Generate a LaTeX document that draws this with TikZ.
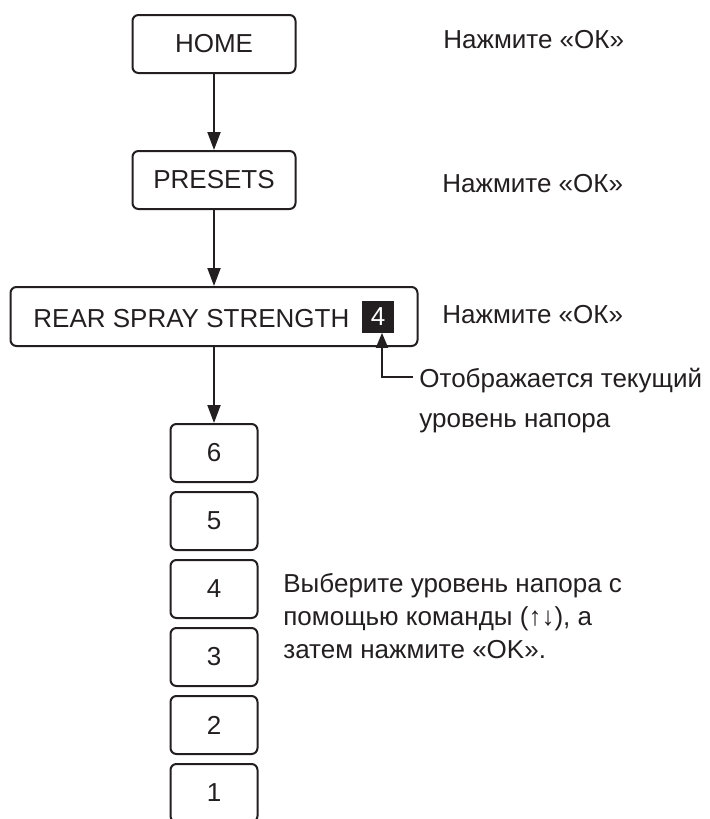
\documentclass[tikz,border=0pt]{standalone}
\usepackage{fontspec}
\setmainfont{Liberation Sans}
\usetikzlibrary{arrows.meta}
\definecolor{ink}{RGB}{35,31,32}
\begin{document}
\begin{tikzpicture}[
    x=0.5pt, y=-0.5pt,
    every node/.style={text=ink, font=\fontsize{13}{15.6}\selectfont},
    menu/.style={rectangle, draw=ink, line width=1pt, rounded corners=3pt, minimum height=29pt, inner sep=0pt},
    level/.style={menu, minimum width=43.5pt},
    note/.style={anchor=base west, align=left, inner sep=0pt},
    arrow/.style={-{Triangle[length=9pt, width=6.5pt]}, draw=ink, line width=1pt},
    pointer/.style={-{Triangle[length=7.5pt, width=6pt]}, draw=ink, line width=1pt}
]
    \useasboundingbox (0,0) rectangle (709,819);

    % Menu path
    \node[menu, minimum width=81.5pt] (home) at (214,44) {HOME};
    \node[menu, minimum width=81.5pt] (presets) at (214,180) {PRESETS};
    \node[menu, minimum width=203.5pt, minimum height=29.5pt] (rear) at (214,316.5) {};
    \node[anchor=base west, inner sep=0pt] (rearlbl) at (33,327) {REAR SPRAY STRENGTH};
    \node[fill=ink, text=white, minimum size=16pt, inner sep=0pt] (cur) at (378,316.5) {4};
    \draw[arrow] (home) -- (presets);
    \draw[arrow] (presets) -- (rear);
    \draw[arrow] (rear) -- (214,423);

    % Level choices
    \foreach \n [count=\i from 0] in {6,5,4,3,2,1}
        \node[level] (lv\n) at (214,453+68*\i) {\n};

    % Notes on the right (base = last line)
    \node[note] (ok1) at (443,48) {Нажмите «ОК»};
    \node[note] (ok2) at (442,192) {Нажмите «ОК»};
    \node[note] (ok3) at (442,323) {Нажмите «ОК»};
    \node[note, font=\fontsize{13}{20}\selectfont] (shown) at (419,427) {Отображается текущий\\уровень напора};
    \coordinate (tail) at (413,377);
    \draw[pointer] (tail) -| ([xshift=2pt]cur.south);
    \node[note, font=\fontsize{13}{16.5}\selectfont] (choose) at (283,658) {Выберите уровень напора с\\помощью команды (↑↓), а\\затем нажмите «OK».};
\end{tikzpicture}
\end{document}
